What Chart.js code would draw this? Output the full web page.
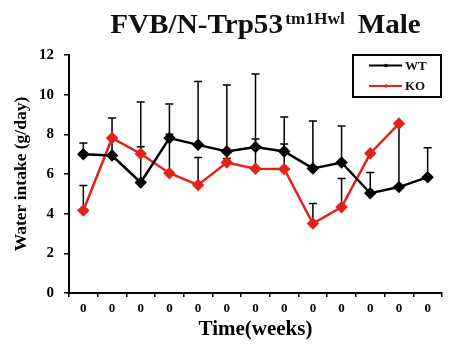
<!DOCTYPE html>
<html><head><meta charset="utf-8">
<script src="https://cdn.jsdelivr.net/npm/chart.js@4.4.0/dist/chart.umd.min.js"></script>
<style>html,body{margin:0;padding:0;background:#fff;}#wrap{width:449px;height:350px;position:relative;}</style>
</head><body><div id="wrap"><canvas id="c" width="449" height="350"></canvas></div>
<script>
// ---- data ----
const categories = ['0','0','0','0','0','0','0','0','0','0','0','0','0'];
const wtMean  = [7.00, 6.93, 5.57, 7.81, 7.47, 7.14, 7.36, 7.14, 6.28, 6.58, 5.03, 5.34, 5.84];
const wtUpper = [7.56, 8.82, 9.63, 9.53, 10.67, 10.49, 11.04, 8.87, 8.67, 8.42, 6.08, 8.54, 7.32];
const koMean  = [4.16, 7.81, 7.02, 6.04, 5.45, 6.58, 6.26, 6.25, 3.50, 4.33, 7.04, 8.54, null];
const koUpper = [5.42, 7.81, 7.37, 8.01, 6.83, 6.78, 7.76, 7.51, 4.51, 5.77, 7.04, 8.54, null];
const yTicks = [0, 2, 4, 6, 8, 10, 12];
const seriesLabels = ['WT', 'KO'];
const titleMain = 'FVB/N-Trp53';
const titleSup = 'tm1Hwl';
const titleTail = 'Male';
const xTitle = 'Time(weeks)';
const yTitle = 'Water intake (g/day)';

const SERIF = "'Liberation Serif','Times New Roman',serif";
const RED = '#e2231c';

const errorBars = {
  id: 'errorBars',
  beforeDatasetsDraw(chart) {
    const ctx = chart.ctx, ys = chart.scales.y;
    ctx.save();
    ctx.strokeStyle = '#000';
    ctx.lineWidth = 1.5;
    chart.data.datasets.forEach((ds, i) => {
      const meta = chart.getDatasetMeta(i);
      ds.errorUpper.forEach((u, j) => {
        const v = ds.data[j];
        if (v == null || u == null || u <= v) return;
        const p = meta.data[j];
        const y1 = ys.getPixelForValue(u);
        ctx.beginPath();
        ctx.moveTo(p.x, p.y); ctx.lineTo(p.x, y1);
        ctx.moveTo(p.x - 4, y1); ctx.lineTo(p.x + 4, y1);
        ctx.stroke();
      });
    });
    ctx.restore();
  }
};

const titleAndLegend = {
  id: 'titleAndLegend',
  afterDraw(chart) {
    const ctx = chart.ctx, ca = chart.chartArea;
    ctx.save();
    // title (slightly widened like the reference)
    ctx.fillStyle = '#111';
    ctx.textBaseline = 'alphabetic';
    ctx.textAlign = 'left';
    const sx = 1.08;
    const fMain = 'bold 27px ' + SERIF, fSup = 'bold 16px ' + SERIF;
    ctx.font = fMain; const w1 = ctx.measureText(titleMain).width; const w3 = ctx.measureText(titleTail).width;
    ctx.font = fSup; const w2 = ctx.measureText(titleSup).width;
    const gap1 = 2, gap2 = 12;
    const total = (w1 + gap1 + w2 + gap2 + w3) * sx;
    const x0 = (ca.left + ca.right) / 2 + 10 - total / 2;
    const base = 33;
    ctx.save();
    ctx.translate(x0, 0);
    ctx.scale(sx, 1);
    let x = 0;
    ctx.font = fMain; ctx.fillText(titleMain, x, base); x += w1 + gap1;
    ctx.font = fSup; ctx.fillText(titleSup, x, base - 9); x += w2 + gap2;
    ctx.font = fMain; ctx.fillText(titleTail, x, base);
    ctx.restore();
    // legend box
    const bw = 88, bh = 42;
    const bx = ca.right - bw - 1, by = ca.top;
    ctx.strokeStyle = '#000'; ctx.lineWidth = 2;
    ctx.strokeRect(bx, by, bw, bh);
    ctx.font = 'bold 13px ' + SERIF;
    ctx.textBaseline = 'middle';
    chart.data.datasets.forEach((ds, i) => {
      const ly = by + 10.5 + i * 20.5;
      ctx.strokeStyle = ds.borderColor; ctx.lineWidth = 2;
      ctx.beginPath(); ctx.moveTo(bx + 16, ly); ctx.lineTo(bx + 49, ly); ctx.stroke();
      ctx.fillStyle = ds.borderColor;
      ctx.beginPath(); ctx.arc(bx + 33, ly, 1.8, 0, Math.PI * 2); ctx.fill();
      ctx.fillStyle = '#111';
      ctx.fillText(ds.label, bx + 52, ly + 1);
    });
    ctx.restore();
  }
};

new Chart(document.getElementById('c'), {
  type: 'line',
  data: {
    labels: categories,
    datasets: [
      { label: seriesLabels[0], data: wtMean, errorUpper: wtUpper, borderColor: '#000', backgroundColor: '#000',
        borderWidth: 2.5, pointStyle: 'rectRot', pointRadius: 4.5, pointBackgroundColor: '#000', pointBorderColor: '#000', tension: 0 },
      { label: seriesLabels[1], data: koMean, errorUpper: koUpper, borderColor: RED, backgroundColor: RED,
        borderWidth: 2.5, pointStyle: 'rectRot', pointRadius: 4.5, pointBackgroundColor: RED, pointBorderColor: RED, tension: 0 }
    ]
  },
  options: {
    responsive: false, animation: false, devicePixelRatio: 1,
    layout: { padding: { top: 55, right: 3, left: 0, bottom: 0 } },
    plugins: { legend: { display: false }, title: { display: false }, tooltip: { enabled: false } },
    scales: {
      x: {
        type: 'category', offset: true,
        grid: { display: true, drawOnChartArea: false, drawTicks: true, tickLength: 4, color: '#000', lineWidth: 1.5, offset: true },
        border: { display: true, color: '#000', width: 2 },
        ticks: { color: '#000', font: { family: SERIF, size: 13, weight: 'bold' }, padding: 4, maxRotation: 0, autoSkip: false },
        title: { display: true, text: xTitle, color: '#000', font: { family: SERIF, size: 21, weight: 'bold' }, padding: { top: 4, bottom: 8 } },
        afterFit(s) { s.height = 57; }
      },
      y: {
        min: 0, max: 12,
        afterBuildTicks(s) { s.ticks = yTicks.map(v => ({ value: v })); },
        grid: { display: true, drawOnChartArea: false, drawTicks: true, tickLength: 5, color: '#000', lineWidth: 1.5 },
        border: { display: true, color: '#000', width: 2 },
        ticks: { color: '#000', font: { family: SERIF, size: 15, weight: 'bold' }, padding: 10 },
        title: { display: true, text: yTitle, color: '#000', font: { family: SERIF, size: 17.5, weight: 'bold' }, padding: { top: 11, bottom: 0 } },
        afterFit(s) { s.width = 69; }
      }
    }
  },
  plugins: [errorBars, titleAndLegend]
});
</script></body></html>
